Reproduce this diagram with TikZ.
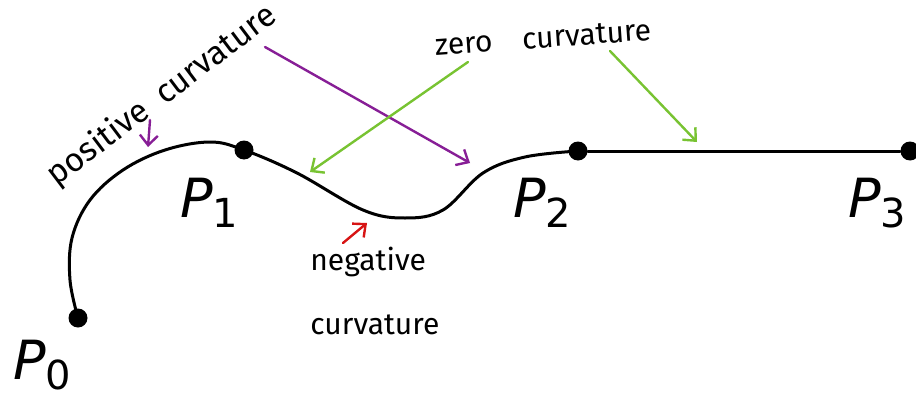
\documentclass[tikz,border=0pt]{standalone}
\usepackage{fontspec}
\setmainfont{DejaVu Sans}
\newfontfamily\hand{Fira Sans}
\usetikzlibrary{arrows.meta}
\definecolor{hpurple}{RGB}{135,30,150}
\definecolor{hgreen}{RGB}{120,195,50}
\definecolor{hred}{RGB}{215,20,20}
\tikzset{
  dot/.style={circle,fill=black,inner sep=0pt,minimum size=9.5pt},
  plabel/.style={anchor=base west,inner sep=0pt,font=\fontsize{27}{30}\selectfont},
  handtext/.style={inner sep=0pt,font=\hand\fontsize{15}{18}\selectfont},
  harrow/.style={line width=1.2pt,line cap=round,-{Straight Barb[length=5pt,width=9pt,line width=1.2pt]}},
  curve/.style={line width=1.5pt,line cap=round,line join=round}
}
\newcommand{\plab}[1]{\textit{P}\raisebox{-5pt}{\fontsize{20}{20}\selectfont #1}}
\begin{document}
\begin{tikzpicture}[x=0.5pt,y=-0.5pt]
\useasboundingbox (0,0) rectangle (916,396);
% points
\node[dot] (p0) at (78,318) {};
\node[dot] (p1) at (244,150) {};
\node[dot] (p2) at (578,151) {};
\node[dot] (p3) at (910,151) {};
% curve
\draw[curve] plot[smooth,tension=0.6] coordinates {(p0) (70,280) (72,238) (90,200) (123,170) (165,150) (210,142) (p1) (297,173) (363,210) (405,218) (443,210) (483,173) (525,157) (p2)};
\draw[curve] (p2) -- (p3);
% labels
\node[plabel] (l0) at (13,379) {\plab{0}};
\node[plabel] (l1) at (180,217) {\plab{1}};
\node[plabel] (l2) at (513,217) {\plab{2}};
\node[plabel] (l3) at (848,217) {\plab{3}};
% handwritten texts
\node[handtext,rotate=37,font=\hand\fontsize{16.5}{19}\selectfont] (tpos) at (162,96) {positive\enspace curvature};
\node[handtext,rotate=4] (tzero) at (543,38) {zero\quad curvature};
\node[handtext,anchor=west] (tneg) at (310,262) {negative};
\node[handtext,anchor=west] (tcurv) at (310,325) {curvature};
% arrows
\coordinate (a1s) at (265,47);  \coordinate (a1e) at (470,163);
\coordinate (a2s) at (150,120); \coordinate (a2e) at (148,147);
\coordinate (g1s) at (468,62);  \coordinate (g1e) at (310,172);
\coordinate (g2s) at (610,51);  \coordinate (g2e) at (697,142);
\coordinate (r1s) at (343,243); \coordinate (r1e) at (367,223);
\draw[harrow,hpurple] (a1s) -- (a1e);
\draw[harrow,hpurple] (a2s) -- (a2e);
\draw[harrow,hgreen] (g1s) -- (g1e);
\draw[harrow,hgreen] (g2s) -- (g2e);
\draw[harrow,hred] (r1s) -- (r1e);
\end{tikzpicture}
\end{document}
